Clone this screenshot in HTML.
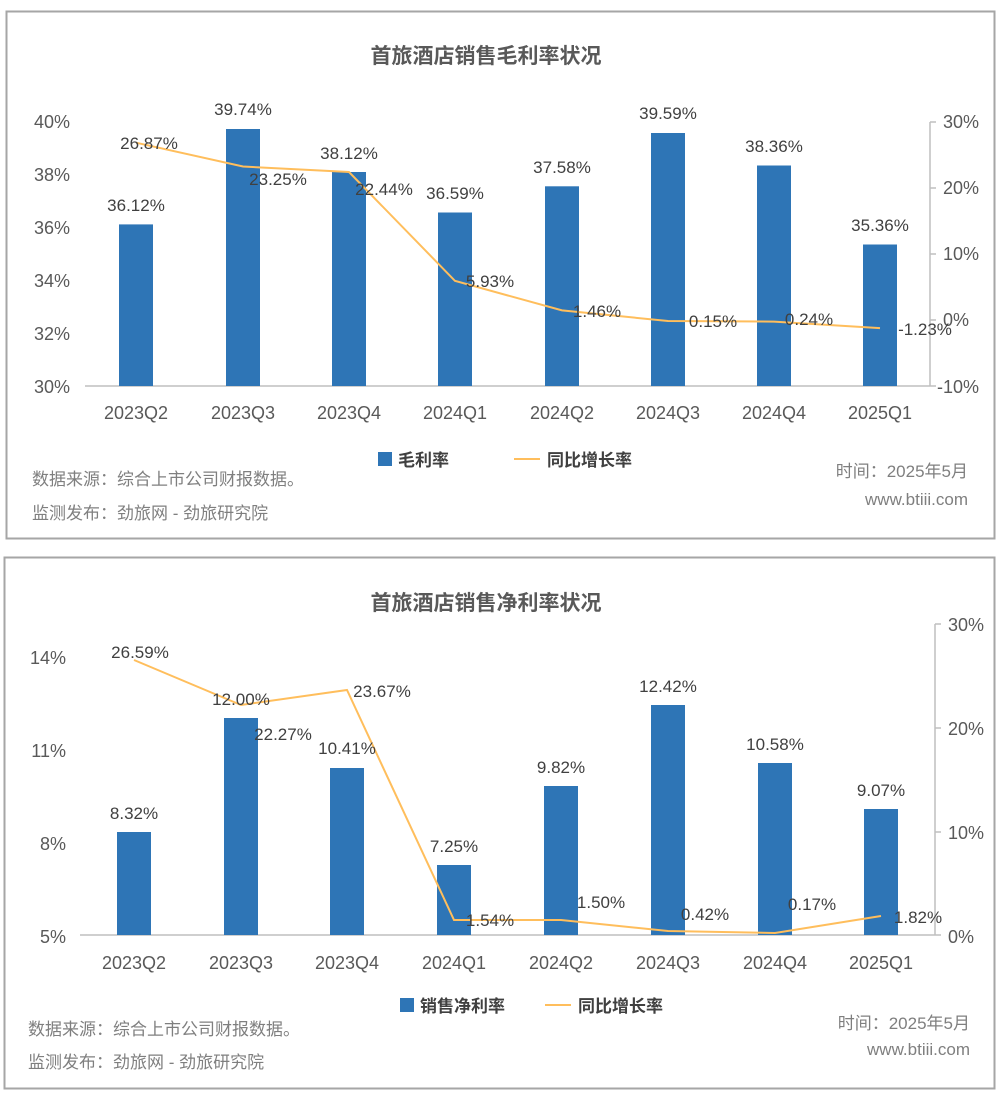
<!DOCTYPE html>
<html><head><meta charset="utf-8"><style>
body{margin:0;background:#fff;}
svg{display:block;font-family:"Liberation Sans","Noto Sans CJK SC",sans-serif;}
</style></head><body>
<svg width="1004" height="1096" viewBox="0 0 1004 1096">
<rect x="0" y="0" width="1004" height="1096" fill="#fff"/>
<!-- Panel 1 -->
<rect x="6.5" y="11.5" width="988" height="527" fill="#fff" stroke="#a6a6a6" stroke-width="2"/>
<text x="486" y="63" text-anchor="middle" font-size="21" font-weight="bold" fill="#595959">首旅酒店销售毛利率状况</text>
<g font-size="18" fill="#595959">
<text x="70" y="128" text-anchor="end">40%</text>
<text x="70" y="181" text-anchor="end">38%</text>
<text x="70" y="234" text-anchor="end">36%</text>
<text x="70" y="287" text-anchor="end">34%</text>
<text x="70" y="340" text-anchor="end">32%</text>
<text x="70" y="393" text-anchor="end">30%</text>
<text x="943" y="128">30%</text>
<text x="943" y="194">20%</text>
<text x="943" y="260">10%</text>
<text x="943" y="326">0%</text>
<text x="937" y="393">-10%</text>
</g>
<line x1="85" y1="386" x2="930" y2="386" stroke="#bfbfbf" stroke-width="1.5"/>
<line x1="930" y1="122" x2="930" y2="386" stroke="#bfbfbf" stroke-width="1.5"/>
<g stroke="#bfbfbf" stroke-width="1.5">
<line x1="930" y1="122" x2="936" y2="122"/><line x1="930" y1="188" x2="936" y2="188"/><line x1="930" y1="254" x2="936" y2="254"/><line x1="930" y1="320" x2="936" y2="320"/><line x1="930" y1="386" x2="936" y2="386"/>
</g>
<g fill="#2e75b6">
<rect x="119" y="224.4" width="34" height="161.6"/>
<rect x="226" y="129" width="34" height="257"/>
<rect x="332" y="172" width="34" height="214"/>
<rect x="438" y="212.5" width="34" height="173.5"/>
<rect x="545" y="186.3" width="34" height="199.7"/>
<rect x="651" y="133" width="34" height="253"/>
<rect x="757" y="165.5" width="34" height="220.5"/>
<rect x="863" y="244.5" width="34" height="141.5"/>
</g>
<polyline fill="none" stroke="#ffbe5c" stroke-width="2" points="136,142.7 243,166.5 349,172 455,280.9 562,310.4 668,321 774,321.6 880,328.1"/>
<g font-size="17" fill="#404040" text-anchor="middle">
<text x="136" y="211">36.12%</text>
<text x="243" y="115">39.74%</text>
<text x="349" y="159">38.12%</text>
<text x="455" y="199">36.59%</text>
<text x="562" y="173">37.58%</text>
<text x="668" y="119">39.59%</text>
<text x="774" y="152">38.36%</text>
<text x="880" y="231">35.36%</text>
<text x="149" y="149">26.87%</text>
<text x="278" y="185">23.25%</text>
<text x="384" y="195">22.44%</text>
<text x="490" y="287">5.93%</text>
<text x="597" y="317">1.46%</text>
<text x="713" y="327">0.15%</text>
<text x="809" y="325">0.24%</text>
<text x="925" y="335">-1.23%</text>
</g>
<g font-size="18" fill="#595959" text-anchor="middle">
<text x="136" y="419">2023Q2</text><text x="243" y="419">2023Q3</text><text x="349" y="419">2023Q4</text><text x="455" y="419">2024Q1</text><text x="562" y="419">2024Q2</text><text x="668" y="419">2024Q3</text><text x="774" y="419">2024Q4</text><text x="880" y="419">2025Q1</text>
</g>
<rect x="378" y="452" width="14" height="14" fill="#2e75b6"/>
<text x="398" y="466" font-size="17" fill="#404040" font-weight="bold">毛利率</text>
<line x1="514" y1="459" x2="540" y2="459" stroke="#ffbe5c" stroke-width="2"/>
<text x="547" y="466" font-size="17" fill="#404040" font-weight="bold">同比增长率</text>
<g font-size="17" fill="#7f7f7f">
<text x="32" y="485">数据来源：综合上市公司财报数据。</text>
<text x="32" y="519">监测发布：劲旅网 - 劲旅研究院</text>
<text x="968" y="477" text-anchor="end">时间：2025年5月</text>
<text x="968" y="505" text-anchor="end">www.btiii.com</text>
</g>
<!-- Panel 2 -->
<rect x="4.5" y="557.5" width="990" height="531" fill="#fff" stroke="#a6a6a6" stroke-width="2"/>
<text x="486" y="610" text-anchor="middle" font-size="21" font-weight="bold" fill="#595959">首旅酒店销售净利率状况</text>
<g font-size="18" fill="#595959">
<text x="66" y="664" text-anchor="end">14%</text>
<text x="66" y="757" text-anchor="end">11%</text>
<text x="66" y="850" text-anchor="end">8%</text>
<text x="66" y="943" text-anchor="end">5%</text>
<text x="948" y="631">30%</text>
<text x="948" y="735">20%</text>
<text x="948" y="839">10%</text>
<text x="948" y="943">0%</text>
</g>
<line x1="80" y1="935" x2="935" y2="935" stroke="#bfbfbf" stroke-width="1.5"/>
<line x1="935" y1="624" x2="935" y2="935" stroke="#bfbfbf" stroke-width="1.5"/>
<g stroke="#bfbfbf" stroke-width="1.5">
<line x1="935" y1="624" x2="941" y2="624"/><line x1="935" y1="728" x2="941" y2="728"/><line x1="935" y1="832" x2="941" y2="832"/><line x1="935" y1="935" x2="941" y2="935"/>
</g>
<g fill="#2e75b6">
<rect x="117" y="832" width="34" height="103"/>
<rect x="224" y="718" width="34" height="217"/>
<rect x="330" y="768" width="34" height="167"/>
<rect x="437" y="865" width="34" height="70"/>
<rect x="544" y="786" width="34" height="149"/>
<rect x="651" y="705" width="34" height="230"/>
<rect x="758" y="763" width="34" height="172"/>
<rect x="864" y="809" width="34" height="126"/>
</g>
<polyline fill="none" stroke="#ffbe5c" stroke-width="2" points="134,660 241,705 347,690 454,920 561,920 668,931 775,933 881,916"/>
<g font-size="17" fill="#404040" text-anchor="middle">
<text x="134" y="819">8.32%</text>
<text x="241" y="705">12.00%</text>
<text x="347" y="754">10.41%</text>
<text x="454" y="852">7.25%</text>
<text x="561" y="773">9.82%</text>
<text x="668" y="692">12.42%</text>
<text x="775" y="750">10.58%</text>
<text x="881" y="796">9.07%</text>
<text x="140" y="658">26.59%</text>
<text x="283" y="740">22.27%</text>
<text x="382" y="697">23.67%</text>
<text x="490" y="926">1.54%</text>
<text x="601" y="908">1.50%</text>
<text x="705" y="920">0.42%</text>
<text x="812" y="910">0.17%</text>
<text x="918" y="923">1.82%</text>
</g>
<g font-size="18" fill="#595959" text-anchor="middle">
<text x="134" y="969">2023Q2</text><text x="241" y="969">2023Q3</text><text x="347" y="969">2023Q4</text><text x="454" y="969">2024Q1</text><text x="561" y="969">2024Q2</text><text x="668" y="969">2024Q3</text><text x="775" y="969">2024Q4</text><text x="881" y="969">2025Q1</text>
</g>
<rect x="400" y="998" width="14" height="14" fill="#2e75b6"/>
<text x="420" y="1012" font-size="17" fill="#404040" font-weight="bold">销售净利率</text>
<line x1="545" y1="1005" x2="571" y2="1005" stroke="#ffbe5c" stroke-width="2"/>
<text x="578" y="1012" font-size="17" fill="#404040" font-weight="bold">同比增长率</text>
<g font-size="17" fill="#7f7f7f">
<text x="28" y="1035">数据来源：综合上市公司财报数据。</text>
<text x="28" y="1068">监测发布：劲旅网 - 劲旅研究院</text>
<text x="970" y="1029" text-anchor="end">时间：2025年5月</text>
<text x="970" y="1055" text-anchor="end">www.btiii.com</text>
</g>
</svg>
</body></html>
